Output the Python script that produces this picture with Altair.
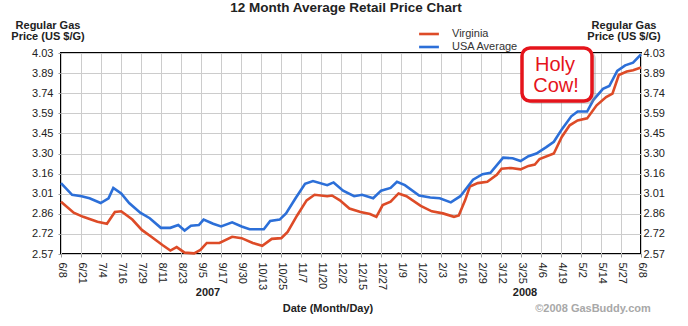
import altair as alt
import pandas as pd

# ---------------- data ----------------
x_tick_labels = ["6/8", "6/21", "7/4", "7/16", "7/29", "8/11", "8/23", "9/5", "9/17", "9/30",
                 "10/13", "10/25", "11/7", "11/20", "12/2", "12/15", "12/27", "1/9", "1/22", "2/3",
                 "2/16", "2/29", "3/12", "3/25", "4/6", "4/19", "5/2", "5/14", "5/27", "6/8"]
y_tick_labels = ["2.57", "2.72", "2.86", "3.01", "3.16", "3.30", "3.45", "3.59", "3.74", "3.89", "4.03"]

span_days = 366  # 6/8/2007 .. 6/8/2008 (days since 6/8/2007)

usa_day = [0, 7, 13, 18, 25, 30, 33, 38, 43, 50,
           56, 63, 69, 74, 78, 82, 87, 90, 96, 101,
           108, 114, 119, 128, 132, 138, 142, 148, 154, 159,
           168, 172, 178, 185, 190, 197, 202, 208, 212, 217,
           226, 233, 239, 246, 252, 256, 260, 266, 271, 279,
           285, 290, 295, 300, 306, 311, 316, 322, 326, 332,
           336, 342, 346, 351, 356, 361, 366]
usa_price = [3.085, 3.00, 2.99, 2.975, 2.94, 2.975, 3.05, 3.01, 2.94, 2.87,
             2.83, 2.76, 2.76, 2.78, 2.74, 2.775, 2.78, 2.82, 2.79, 2.77,
             2.80, 2.77, 2.75, 2.75, 2.81, 2.82, 2.865, 2.975, 3.08, 3.10,
             3.07, 3.09, 3.03, 2.99, 3.00, 2.975, 3.03, 3.05, 3.095, 3.07,
             2.995, 2.98, 2.975, 2.945, 2.99, 3.05, 3.11, 3.15, 3.16, 3.27,
             3.265, 3.245, 3.28, 3.30, 3.345, 3.385, 3.475, 3.57, 3.605, 3.605,
             3.69, 3.77, 3.79, 3.90, 3.94, 3.96, 4.02]

va_day = [0, 8, 14, 23, 29, 34, 38, 45, 51, 57,
          64, 69, 73, 78, 84, 88, 92, 100, 108, 114,
          121, 127, 133, 139, 143, 149, 155, 160, 168, 171,
          176, 182, 189, 195, 199, 203, 208, 213, 218, 227,
          234, 241, 248, 251, 255, 258, 263, 269, 275, 278,
          284, 290, 295, 299, 302, 311, 316, 321, 326, 332,
          338, 344, 348, 352, 357, 361, 366]
va_price = [2.95, 2.87, 2.84, 2.805, 2.79, 2.875, 2.88, 2.82, 2.745, 2.695,
            2.635, 2.595, 2.62, 2.58, 2.575, 2.60, 2.65, 2.65, 2.695, 2.685,
            2.65, 2.63, 2.68, 2.685, 2.73, 2.85, 2.96, 3.00, 2.99, 2.995,
            2.96, 2.90, 2.875, 2.86, 2.84, 2.925, 2.95, 3.01, 2.99, 2.92,
            2.88, 2.865, 2.84, 2.85, 2.96, 3.06, 3.085, 3.095, 3.145, 3.19,
            3.195, 3.185, 3.21, 3.22, 3.26, 3.30, 3.42, 3.505, 3.54, 3.555,
            3.65, 3.71, 3.735, 3.87, 3.895, 3.905, 3.925]

series_names = ["Virginia", "USA Average"]
series_colors = ["#DD4B27", "#2C6FD8"]

y_min, y_max = 2.57, 4.03

# ---------------- build table ----------------
df = pd.concat([
    pd.DataFrame({"day": va_day, "price": va_price, "series": "Virginia"}),
    pd.DataFrame({"day": usa_day, "price": usa_price, "series": "USA Average"}),
], ignore_index=True)

n_x = len(x_tick_labels) - 1
n_y = len(y_tick_labels) - 1
x_vals = [i * span_days / n_x for i in range(n_x + 1)]
y_step = (y_max - y_min) / n_y
y_vals = [y_min + i * y_step for i in range(n_y + 1)]

x_label_expr = "[" + ",".join("'%s'" % s for s in x_tick_labels) + "][round(datum.value*%d/%d)]" % (n_x, span_days)
y_label_expr = "[" + ",".join("'%s'" % s for s in y_tick_labels) + "][round((datum.value-%g)/%.6f)]" % (y_min, y_step)

FONT = "Liberation Sans"

x_enc = alt.X("day:Q",
              scale=alt.Scale(domain=[0, span_days], nice=False, zero=False),
              axis=alt.Axis(values=x_vals, labelExpr=x_label_expr, labelAngle=90,
                            labelAlign="left", labelBaseline="middle", tickSize=3,
                            labelPadding=5, title=None, grid=True, labelOverlap=False))

lines = alt.Chart(df).mark_line(strokeWidth=2.6).encode(
    x=x_enc,
    y=alt.Y("price:Q",
            scale=alt.Scale(domain=[y_min, y_max], nice=False, zero=False),
            axis=alt.Axis(values=y_vals, labelExpr=y_label_expr, orient="left",
                          tickSize=3, labelPadding=5, title=None, grid=True)),
    color=alt.Color("series:N",
                    scale=alt.Scale(domain=series_names, range=series_colors),
                    sort=series_names,
                    legend=alt.Legend(orient="none", legendX=361, legendY=-26, title=None,
                                      symbolType="M-1.8,0H1.8", symbolSize=121,
                                      symbolStrokeWidth=2.6,
                                      labelFontSize=11, labelFont=FONT, labelColor="#333",
                                      padding=0, rowPadding=0, labelOffset=16)),
    detail="series:N",
)

right_axis = alt.Chart(df).mark_line(opacity=0).encode(
    x=x_enc,
    y=alt.Y("price:Q",
            scale=alt.Scale(domain=[y_min, y_max], nice=False, zero=False),
            axis=alt.Axis(values=y_vals, labelExpr=y_label_expr, orient="right",
                          tickSize=0, labelPadding=2, title=None, grid=False)),
    detail="series:N",
)


def txt(s, x, y, size=11, bold=True, color="#222", align="center"):
    return alt.Chart(pd.DataFrame({"t": [s]})).mark_text(
        font=FONT, fontSize=size, fontWeight="bold" if bold else "normal",
        color=color, align=align, baseline="alphabetic"
    ).encode(text="t:N", x=alt.value(x), y=alt.value(y))


annotations = [
    txt("12 Month Average Retail Price Chart", 285, -41, size=13.5),
    txt("Regular Gas", -13, -24),
    txt("Price (US $/G)", -13, -13),
    txt("Regular Gas", 563, -24),
    txt("Price (US $/G)", 563, -13),
    txt("2007", 147, 243),
    txt("2008", 464, 243),
    txt("Date (Month/Day)", 267, 259),
    txt("\u00a92008 GasBuddy.com", 532, 259, color="#A8A8A8"),
]

box_df = pd.DataFrame({"k": [0]})
shadow = alt.Chart(box_df).mark_rect(cornerRadius=8, fill="#888", opacity=0.35).encode(
    x=alt.value(464), x2=alt.value(535), y=alt.value(-2), y2=alt.value(51))
box = alt.Chart(box_df).mark_rect(cornerRadius=8, fill="white", stroke="#E5141B", strokeWidth=3.5).encode(
    x=alt.value(461), x2=alt.value(531), y=alt.value(-5), y2=alt.value(48))
holy = txt("Holy", 494, 18, size=20, bold=False, color="#E5141B")
cow = txt("Cow!", 495, 39, size=20, bold=False, color="#E5141B")

chart = alt.layer(lines, right_axis, *annotations, shadow, box, holy, cow).resolve_scale(
    y="independent"
).properties(
    width=580, height=201,
    padding={"left": 61, "top": 53, "right": 47, "bottom": 72},
    autosize=alt.AutoSizeParams(type="none"),
    background="white",
).configure_view(
    stroke="#000", strokeWidth=2
).configure_axis(
    labelFont=FONT, labelFontSize=11, labelColor="#222",
    gridColor="#CCCCCC", gridWidth=1, domain=False, tickColor="#999"
)

chart.save("out.html", embed_options={"renderer": "svg", "actions": False})
